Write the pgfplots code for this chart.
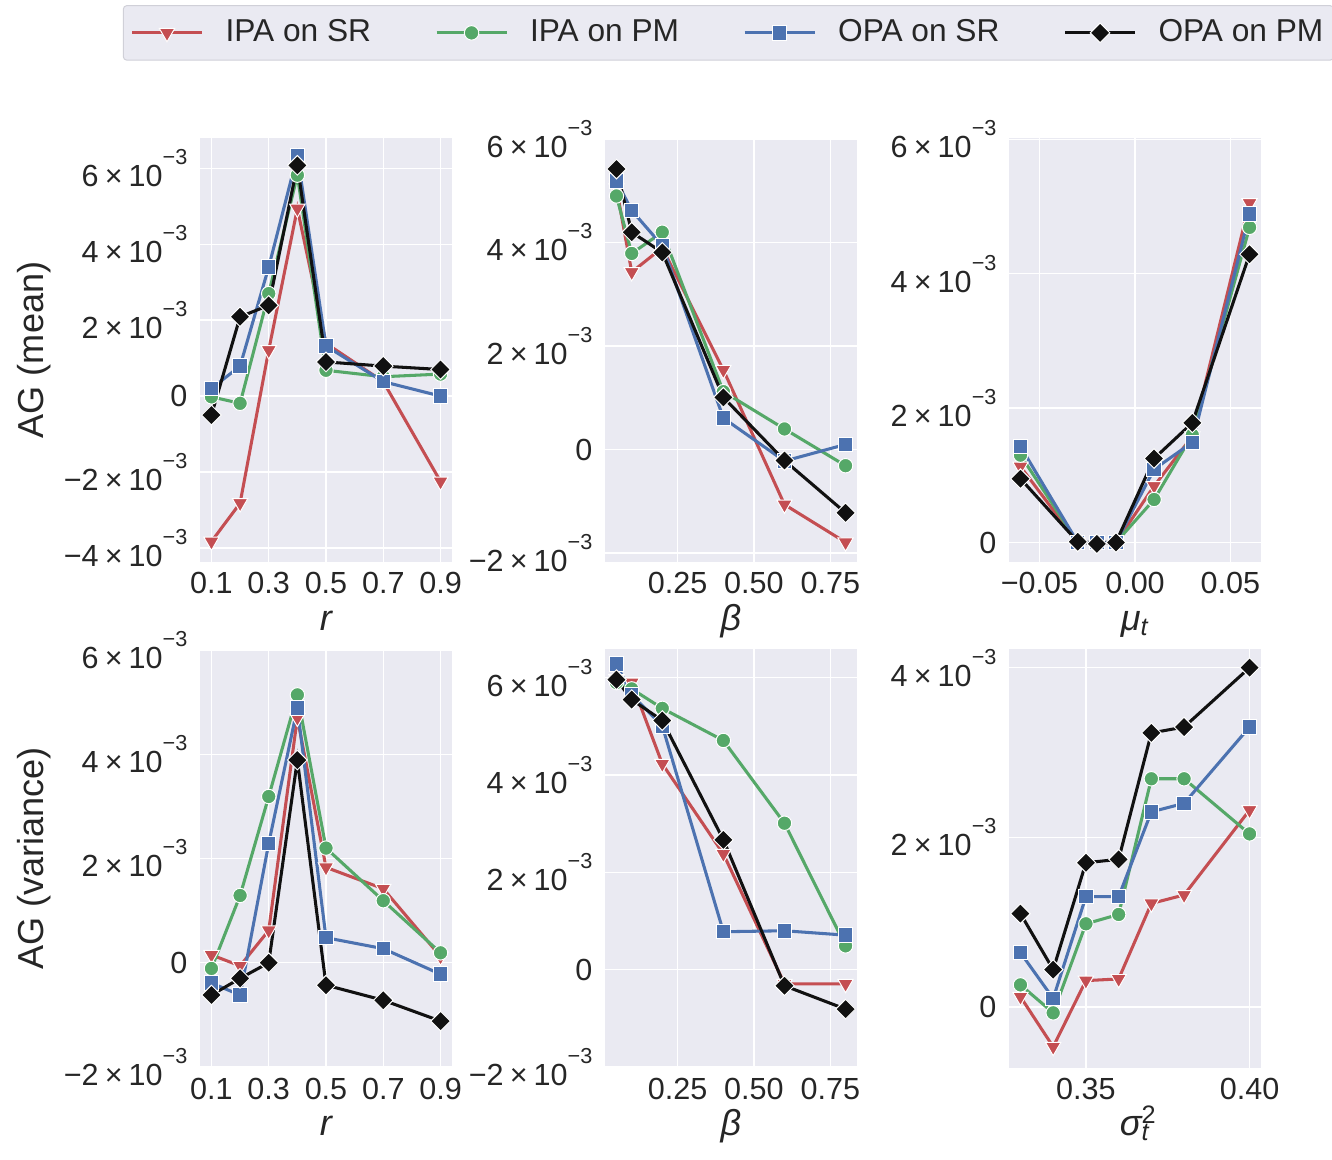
\documentclass[border=0pt]{standalone}
\usepackage{fontspec}
\setmainfont{Liberation Sans}
\usepackage{pgfplots}
\usepackage{pgfplotstable}
\pgfplotsset{compat=1.18}

\newlength\pxu
\setlength\pxu{0.36pt}

\definecolor{sbbg}{HTML}{EAEAF2}
\definecolor{sbtext}{HTML}{262626}
\definecolor{cR}{HTML}{C44E52}
\definecolor{cG}{HTML}{55A868}
\definecolor{cB}{HTML}{4C72B0}
\definecolor{cK}{HTML}{111111}
\definecolor{legdraw}{HTML}{D0D0D8}

\newcommand{\ticksize}{\fontsize{11}{13}\selectfont}
\newcommand{\labsize}{\fontsize{13}{15}\selectfont}
\newcommand{\legsize}{\fontsize{11.4}{13}\selectfont}
\newcommand{\sci}[1]{#1\hspace{0.2em}×\hspace{0.2em}10\raisebox{0.72em}{\fontsize{7.8}{8}\selectfont −3}}

% values in units of 1e-3
\pgfplotstableread{
x    sr     pm     osr    opm
0.1  -3.83  -0.02  0.20   -0.50
0.2  -2.82  -0.19  0.79   2.09
0.3  1.21   2.70   3.40   2.39
0.4  4.94   5.82   6.34   6.08
0.5  1.39   0.68   1.32   0.90
0.7  0.38   0.51   0.38   0.79
0.9  -2.25  0.58   0.00   0.70
}\meanr
\pgfplotstableread{
x    sr     pm     osr    opm
0.05 5.05   4.90   5.19   5.42
0.1  3.43   3.79   4.62   4.20
0.2  3.90   4.20   3.94   3.81
0.4  1.54   1.12   0.61   1.01
0.6  -1.06  0.40   -0.22  -0.21
0.8  -1.79  -0.31  0.10   -1.22
}\meanb
\pgfplotstableread{
x     sr     pm     osr    opm
-0.06 1.13   1.30   1.43   0.95
-0.03 0.00   0.00   0.00   0.01
-0.02 0.00   0.00   0.00   -0.02
-0.01 0.00   0.00   0.00   0.00
0.01  0.84   0.64   1.09   1.25
0.03  1.58   1.60   1.49   1.78
0.06  5.05   4.69   4.89   4.29
}\meanm
\pgfplotstableread{
x    sr     pm     osr    opm
0.1  0.15   -0.11  -0.39  -0.62
0.2  -0.06  1.29   -0.62  -0.30
0.3  0.62   3.19   2.29   0.00
0.4  4.70   5.14   4.89   3.89
0.5  1.83   2.20   0.48   -0.43
0.7  1.42   1.19   0.27   -0.72
0.9  0.12   0.19   -0.22  -1.12
}\varr
\pgfplotstableread{
x    sr     pm     osr    opm
0.05 5.97   5.90   6.28   5.96
0.1  5.90   5.77   5.65   5.55
0.2  4.23   5.37   5.01   5.12
0.4  2.38   4.71   0.78   2.67
0.6  -0.29  3.01   0.80   -0.33
0.8  -0.29  0.49   0.71   -0.81
}\varb
\pgfplotstableread{
x    sr     pm     osr    opm
0.33 0.12   0.26   0.64   1.10
0.34 -0.47  -0.07  0.10   0.44
0.35 0.31   0.98   1.30   1.70
0.36 0.33   1.09   1.30   1.74
0.37 1.22   2.69   2.30   3.23
0.38 1.32   2.69   2.40   3.30
0.40 2.32   2.04   3.30   4.00
}\vars

\pgfplotsset{
  panel/.style={
    scale only axis, anchor=south west, width=252\pxu,
    scaled x ticks=false, scaled y ticks=false,
    axis background/.style={fill=sbbg},
    axis line style={draw=none},
    grid=major, major grid style={white, line width=1.5\pxu},
    major tick length=0pt,
    tick label style={font=\ticksize, text=sbtext},
    xticklabel style={inner sep=0pt, anchor=north, yshift=-10\pxu},
    yticklabel style={inner sep=0pt, anchor=east, xshift=-12\pxu},
    every axis x label/.style={at={(axis description cs:0.5,-0.162)}, anchor=base, font=\labsize, text=sbtext},
    every axis y label/.style={at={(axis description cs:-0.66,0.5)}, anchor=center, rotate=90, font=\labsize, text=sbtext},
    legend image code/.code={\draw[mark repeat=2,mark phase=2,##1] plot coordinates {(0pt,0pt) (35\pxu,0pt) (70\pxu,0pt)};},
  },
  sr/.style={color=cR, line width=1.1pt, mark=triangle*, mark size=3.2pt, mark options={rotate=180, fill=cR, draw=white, line width=0.35pt}},
  pm/.style={color=cG, line width=1.1pt, mark=*, mark size=2.6pt, mark options={fill=cG, draw=white, line width=0.35pt}},
  osr/.style={color=cB, line width=1.1pt, mark=square*, mark size=2.6pt, mark options={fill=cB, draw=white, line width=0.35pt}},
  opm/.style={color=cK, line width=1.1pt, mark=square*, mark size=2.5pt, mark options={rotate=45, fill=cK, draw=white, line width=0.35pt}},
}

\begin{document}
\begin{tikzpicture}
\useasboundingbox (0,0) rectangle (1332\pxu,1160\pxu);

% top row: mean
\begin{axis}[panel, at={(200\pxu,598\pxu)}, height=424\pxu,
  xmin=0.06, xmax=0.94, ymin=-4.37, ymax=6.80,
  xtick={0.1,0.3,0.5,0.7,0.9}, xticklabels={0.1,0.3,0.5,0.7,0.9},
  ytick={-4,-2,0,2,4,6}, yticklabels={\sci{−4},\sci{−2},0,\sci{2},\sci{4},\sci{6}},
  xlabel={\itshape r}, ylabel={AG (mean)},
  legend columns=4,
  legend style={at={(axis description cs:-0.3056,1.313)}, anchor=north west,
    fill=sbbg, draw=legdraw, line width=1\pxu, rounded corners=3\pxu,
    font=\legsize, text=sbtext, inner xsep=7\pxu, inner ysep=5\pxu,
    nodes={inner xsep=3\pxu, inner ysep=9\pxu},
    /tikz/every odd column/.append style={column sep=19\pxu},
    /tikz/every even column/.append style={column sep=61\pxu}},
]
\addplot[sr] table[x=x, y=sr] {\meanr}; \addlegendentry{IPA on SR}
\addplot[pm] table[x=x, y=pm] {\meanr}; \addlegendentry{IPA on PM}
\addplot[osr] table[x=x, y=osr] {\meanr}; \addlegendentry{OPA on SR}
\addplot[opm] table[x=x, y=opm] {\meanr}; \addlegendentry{OPA on PM}
\end{axis}

\begin{axis}[panel, at={(605\pxu,598\pxu)}, height=424\pxu,
  xmin=0.0125, xmax=0.8375, ymin=-2.17, ymax=6.02,
  xtick={0.25,0.5,0.75}, xticklabels={0.25,0.50,0.75},
  ytick={-2,0,2,4,6}, yticklabels={\sci{−2},0,\sci{2},\sci{4},\sci{6}},
  xlabel={\itshape β},
]
\addplot[sr] table[x=x, y=sr] {\meanb};
\addplot[pm] table[x=x, y=pm] {\meanb};
\addplot[osr] table[x=x, y=osr] {\meanb};
\addplot[opm] table[x=x, y=opm] {\meanb};
\end{axis}

\begin{axis}[panel, at={(1009\pxu,598\pxu)}, height=424\pxu,
  xmin=-0.066, xmax=0.066, ymin=-0.29, ymax=6.02,
  xtick={-0.05,0,0.05}, xticklabels={−0.05,0.00,0.05},
  ytick={0,2,4,6}, yticklabels={0,\sci{2},\sci{4},\sci{6}},
  xlabel={{\itshape μ}\textsubscript{\itshape t}},
]
\addplot[sr] table[x=x, y=sr] {\meanm};
\addplot[pm] table[x=x, y=pm] {\meanm};
\addplot[osr] table[x=x, y=osr] {\meanm};
\addplot[opm] table[x=x, y=opm] {\meanm};
\end{axis}

% bottom row: variance
\begin{axis}[panel, at={(200\pxu,92\pxu)}, height=419\pxu,
  xmin=0.06, xmax=0.94, ymin=-2.02, ymax=6.02,
  xtick={0.1,0.3,0.5,0.7,0.9}, xticklabels={0.1,0.3,0.5,0.7,0.9},
  ytick={-2,0,2,4,6}, yticklabels={\sci{−2},0,\sci{2},\sci{4},\sci{6}},
  xlabel={\itshape r}, ylabel={AG (variance)},
]
\addplot[sr] table[x=x, y=sr] {\varr};
\addplot[pm] table[x=x, y=pm] {\varr};
\addplot[osr] table[x=x, y=osr] {\varr};
\addplot[opm] table[x=x, y=opm] {\varr};
\end{axis}

\begin{axis}[panel, at={(605\pxu,92\pxu)}, height=419\pxu,
  xmin=0.0125, xmax=0.8375, ymin=-2.02, ymax=6.59,
  xtick={0.25,0.5,0.75}, xticklabels={0.25,0.50,0.75},
  ytick={-2,0,2,4,6}, yticklabels={\sci{−2},0,\sci{2},\sci{4},\sci{6}},
  xlabel={\itshape β},
]
\addplot[sr] table[x=x, y=sr] {\varb};
\addplot[pm] table[x=x, y=pm] {\varb};
\addplot[osr] table[x=x, y=osr] {\varb};
\addplot[opm] table[x=x, y=opm] {\varb};
\end{axis}

\begin{axis}[panel, at={(1009\pxu,92\pxu)}, height=419\pxu,
  xmin=0.3265, xmax=0.4035, ymin=-0.72, ymax=4.22,
  xtick={0.35,0.40}, xticklabels={0.35,0.40},
  ytick={0,2,4}, yticklabels={0,\sci{2},\sci{4}},
  xlabel={{\itshape σ}\rlap{\textsuperscript{2}}\textsubscript{\itshape t}},
]
\addplot[sr] table[x=x, y=sr] {\vars};
\addplot[pm] table[x=x, y=pm] {\vars};
\addplot[osr] table[x=x, y=osr] {\vars};
\addplot[opm] table[x=x, y=opm] {\vars};
\end{axis}
\end{tikzpicture}
\end{document}
